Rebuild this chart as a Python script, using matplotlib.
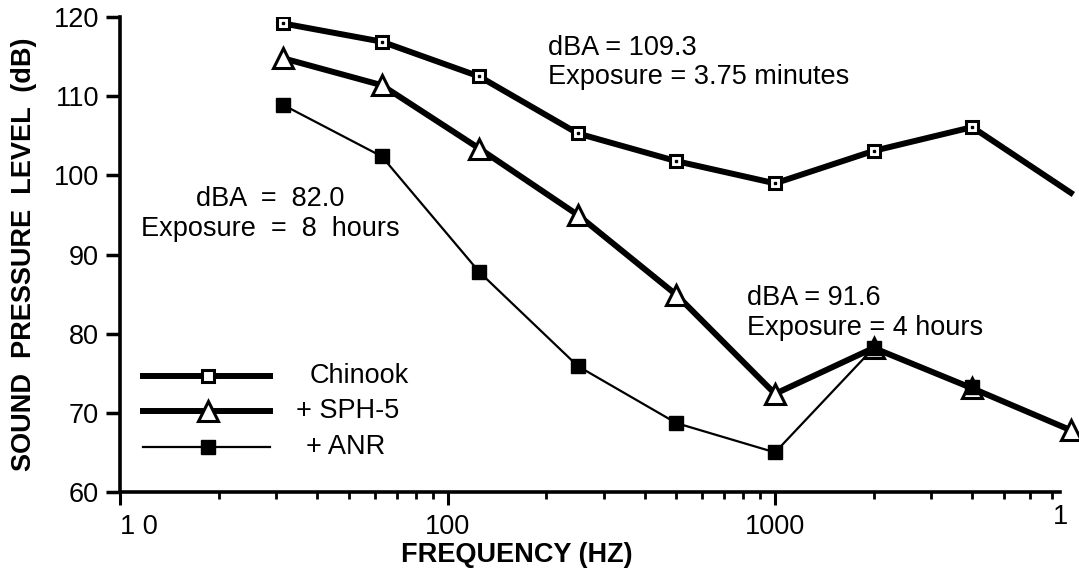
import numpy as np
import matplotlib.pyplot as plt

plt.rcParams['font.family'] = ['Liberation Sans', 'DejaVu Sans']

# octave band centre frequencies (Hz)
freq = [31.5, 63, 125, 250, 500, 1000, 2000, 4000, 8000]
chinook = [119.2, 116.9, 112.5, 105.3, 101.8, 99.0, 103.1, 106.1, 97.8]
sph5 = [114.8, 111.4, 103.4, 95.0, 84.9, 72.4, 78.2, 73.1, 67.8]
anr_freq = [31.5, 63, 125, 250, 500, 1000, 2000, 4000]
anr = [108.9, 102.4, 87.8, 75.9, 68.7, 65.0, 78.2, 73.3]

yticks = [60, 70, 80, 90, 100, 110, 120]
xticks = [10, 100, 1000]
xticklabels = ['1 0', '100', '1000']

fs = 19.5

fig = plt.figure(figsize=(10.79, 5.71), dpi=100)
ax = fig.add_axes([0.1112, 0.1384, 0.8712, 0.8316])

# Chinook: thick line, hollow square with a dot (no marker on last point)
ax.plot(freq, chinook, color='black', lw=4.3, clip_on=False, zorder=3)
ax.plot(freq[:-1], chinook[:-1], ls='none', marker='s', ms=8.5, mfc='white',
        mec='black', mew=2.2, zorder=4)
ax.plot(freq[:-1], chinook[:-1], ls='none', marker='s', ms=2, color='black', zorder=5)

# + SPH-5: thick line, hollow triangles
ax.plot(freq, sph5, color='black', lw=4.3, marker='^', ms=15, mfc='white',
        mec='black', mew=2.2, clip_on=False, zorder=3)

# + ANR: thin line, filled squares
ax.plot(anr_freq, anr, color='black', lw=1.6, marker='s', ms=10, mfc='black',
        mec='black', clip_on=False, zorder=6)

ax.set_xscale('log')
ax.set_xlim(10, 7413)
ax.set_ylim(60, 120)

for s in ['top', 'right']:
    ax.spines[s].set_visible(False)
for s in ['left', 'bottom']:
    ax.spines[s].set_linewidth(2.6)

ax.set_yticks(yticks)
ax.tick_params(axis='y', direction='out', length=10, width=2.5, labelsize=fs, pad=5)
ax.set_xticks(xticks)
ax.set_xticklabels(xticklabels)
ax.tick_params(axis='x', which='major', direction='out', length=9, width=2.2,
               labelsize=fs, pad=7)
ax.tick_params(axis='x', which='minor', direction='out', length=5, width=2)
ax.xaxis.set_minor_formatter(plt.NullFormatter())
ax.get_xticklabels()[0].set_horizontalalignment('left')
ax.text(1.0, -0.025, '1', transform=ax.transAxes, ha='center', va='top', fontsize=fs)

ax.set_ylabel('SOUND  PRESSURE  LEVEL  (dB)', fontsize=fs, fontweight='bold', labelpad=12)
ax.set_xlabel('FREQUENCY (HZ)', fontsize=fs, fontweight='bold', labelpad=2)
ax.xaxis.set_label_coords(0.422, -0.105)

# annotations
ax.text(0.455, 0.962, 'dBA = 109.3\nExposure = 3.75 minutes', transform=ax.transAxes,
        fontsize=fs, ha='left', va='top', linespacing=1.12)
ax.text(0.16, 0.645, 'dBA  =  82.0\nExposure  =  8  hours', transform=ax.transAxes,
        fontsize=fs, ha='center', va='top', linespacing=1.2, multialignment='center')
ax.text(0.667, 0.435, 'dBA = 91.6\nExposure = 4 hours', transform=ax.transAxes,
        fontsize=fs, ha='left', va='top', linespacing=1.2)

# hand-drawn style legend
leg_items = [('Chinook', 4.3, dict(marker='s', ms=8.5, mfc='white', mew=2.2)),
             ('+ SPH-5', 4.3, dict(marker='^', ms=15, mfc='white', mew=2.2)),
             ('+ ANR', 1.6, dict(marker='s', ms=10, mfc='black'))]
leg_y = [0.245, 0.17, 0.095]
leg_tx = [0.255, 0.242, 0.24]
for (lab, lw, mk), yy, tx in zip(leg_items, leg_y, leg_tx):
    ax.plot([0.024, 0.16], [yy, yy], color='black', lw=lw, transform=ax.transAxes,
            clip_on=False, zorder=3)
    ax.plot([0.094], [yy], color='black', ls='none', mec='black', transform=ax.transAxes,
            clip_on=False, zorder=4, **mk)
    ax.text(tx, yy, lab, transform=ax.transAxes, fontsize=fs, ha='center', va='center')

fig.savefig('out.png', dpi=100)
